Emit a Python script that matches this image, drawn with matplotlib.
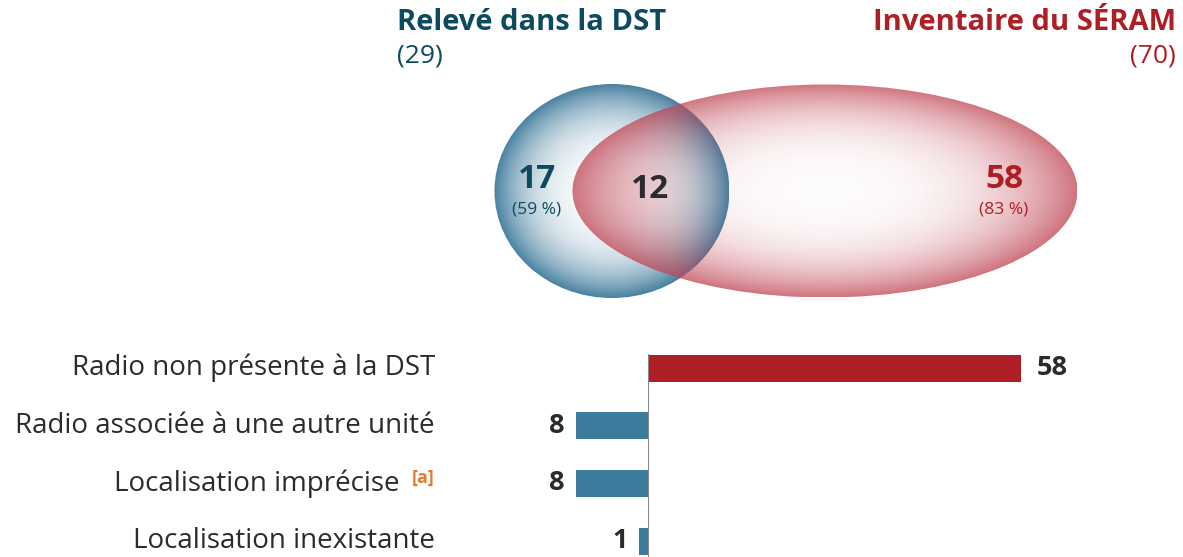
import numpy as np
import matplotlib.pyplot as plt
from matplotlib.patches import Ellipse

# Venn data
dst_total = 29
seram_total = 70
only_dst = 17
both = 12
only_seram = 58
pct_dst = "(59 %)"
pct_seram = "(83 %)"

# bar data (negative side = DST, positive side = SÉRAM)
categories = ["Radio non présente à la DST", "Radio associée à une autre unité",
              "Localisation imprécise", "Localisation inexistante"]
values = [58, -8, -8, -1]

teal = "#0e4a5f"
dark_red = "#ad1f25"
bar_blue = "#3b7b9b"
grey_txt = "#2b2b2f"

plt.rcParams['font.family'] = ['Open Sans', 'DejaVu Sans']

fig = plt.figure(figsize=(11.83, 5.57), dpi=100)
W, H = 1183, 557

# full-figure axes in pixel units for the Venn part
ax = fig.add_axes([0, 0, 1, 1])
ax.set_xlim(0, W)
ax.set_ylim(H, 0)
ax.axis('off')


def radial(cx, cy, w, h, rgb, amax, power, z):
    n = 500
    s = np.linspace(-1, 1, n)
    X, Y = np.meshgrid(s, s)
    R = np.clip(np.sqrt(X**2 + Y**2), 0, 1)
    img = np.zeros((n, n, 4))
    img[..., :3] = np.array(rgb) / 255
    img[..., 3] = (0.03 + 0.97 * R**power) * amax
    im = ax.imshow(img, extent=(cx - w / 2, cx + w / 2, cy + h / 2, cy - h / 2),
                   interpolation='bilinear', aspect='auto', zorder=z)
    e = Ellipse((cx, cy), w, h, fc='none', ec='none', transform=ax.transData)
    ax.add_patch(e)
    im.set_clip_path(e)


radial(612, 191, 235, 214, (62, 122, 155), 0.95, 3.0, 1)
radial(825, 191, 505, 213, (192, 70, 84), 0.75, 3.0, 2)
ax.set_xlim(0, W)
ax.set_ylim(H, 0)

ax.text(397, 22, "Relevé dans la DST", color=teal, fontsize=21, fontweight='bold',
        ha='left', va='center')
ax.text(397, 56, f"({dst_total})", color=teal, fontsize=19, ha='left', va='center')
ax.text(1176, 22, "Inventaire du SÉRAM", color=dark_red, fontsize=21, fontweight='bold',
        ha='right', va='center')
ax.text(1176, 56, f"({seram_total})", color=dark_red, fontsize=19, ha='right', va='center')

ax.text(537, 180, str(only_dst), color=teal, fontsize=24, fontweight='bold',
        ha='center', va='center', zorder=5)
ax.text(537, 210, pct_dst, color=teal, fontsize=12.5, ha='center', va='center', zorder=5)
ax.text(650, 189, str(both), color=grey_txt, fontsize=24, fontweight='bold',
        ha='center', va='center', zorder=5)
ax.text(1004, 180, str(only_seram), color=dark_red, fontsize=24, fontweight='bold',
        ha='center', va='center', zorder=5)
ax.text(1004, 210, pct_seram, color=dark_red, fontsize=12.5, ha='center', va='center', zorder=5)

# bar axes: left side (DST) and right side (SÉRAM) have their own scales
y_top, y_bot = 341, 557
row0, step = 368, 57.7
ylim = ((y_bot - row0) / step, (y_top - row0) / step)
x0 = 648
left_scale = 9.0      # px per unit
right_scale = 6.43

axl = fig.add_axes([(x0 - 120) / W, 0, 120 / W, (H - y_top) / H])
axr = fig.add_axes([x0 / W, 0, (W - x0) / W, (H - y_top) / H])
axl.set_xlim(-120 / left_scale, 0)
axr.set_xlim(0, (W - x0) / right_scale)
for a in (axl, axr):
    a.set_ylim(*ylim)
    a.axis('off')
    a.patch.set_alpha(0)

rows = np.arange(len(categories))
for i, v in zip(rows, values):
    if v > 0:
        axr.barh(i, v, height=27 / step, color=dark_red)
        axr.annotate(str(v), (v, i), xytext=(11, 0), textcoords='offset points',
                     ha='left', va='center', fontsize=19.5, fontweight='bold', color=grey_txt)
    else:
        axl.barh(i, v, height=27 / step, color=bar_blue)
        axl.annotate(str(-v), (v, i), xytext=(-8, 0), textcoords='offset points',
                     ha='right', va='center', fontsize=19.5, fontweight='bold', color=grey_txt)

axr.vlines(0, ylim[1] + 13 / step, ylim[0], color='#8a8a8a', lw=1.5)

for i, c in zip(rows, categories):
    y = row0 + i * step
    if c == "Localisation imprécise":
        ax.text(400, y, c, fontsize=20, color=grey_txt, ha='right', va='center')
        ax.text(435, y - 6, "[a]", fontsize=13, fontweight='bold', color='#e8762d',
                ha='right', va='center')
    else:
        ax.text(435, y, c, fontsize=20, color=grey_txt, ha='right', va='center')

fig.savefig("out.png", dpi=100)
